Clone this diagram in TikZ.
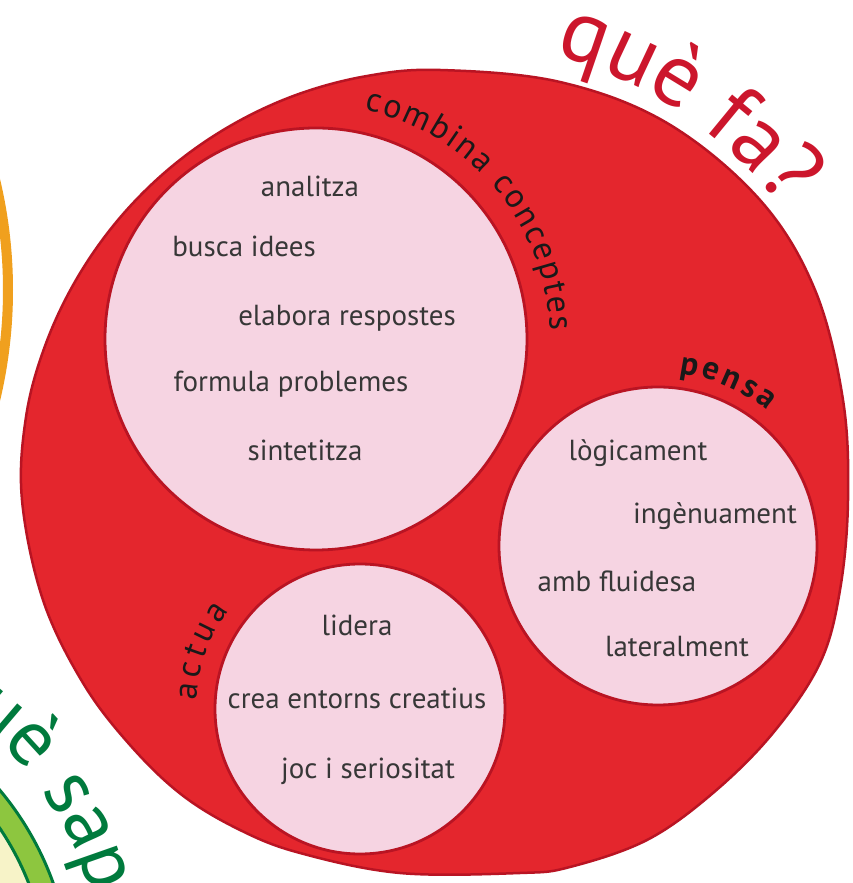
\documentclass[tikz,border=0pt]{standalone}
\usepackage{fontspec}
\setmainfont{PT Sans}
\usetikzlibrary{decorations.text}
\definecolor{redfill}{RGB}{228,38,45}
\definecolor{redline}{RGB}{185,20,35}
\definecolor{pinkfill}{RGB}{246,212,226}
\definecolor{quered}{RGB}{204,22,44}
\definecolor{orangec}{RGB}{240,160,30}
\definecolor{greendark}{RGB}{0,122,61}
\definecolor{greenlight}{RGB}{141,198,63}
\definecolor{creamc}{RGB}{247,243,200}
\definecolor{txtgray}{RGB}{55,55,55}
\definecolor{labelc}{RGB}{25,25,25}
\begin{document}
\begin{tikzpicture}[x=1pt,y=1pt,
  redshape/.style={fill=redfill, draw=redline, line width=2.5pt},
  pinkdisc/.style={circle, fill=pinkfill, draw=redline, line width=2.8pt, inner sep=0pt},
  inner/.style={text=txtgray, font=\fontsize{29}{34}\selectfont, anchor=base, inner sep=0pt}]
\useasboundingbox (0,0) rectangle (852,883);
\clip (0,0) rectangle (852,883);
\fill[white] (0,0) rectangle (852,883);
% orange arc at left edge
\draw[orangec, line width=10pt] (-464,593) circle[radius=472pt];
% green ring, bottom left
\draw[greendark, line width=3pt, fill=greenlight] (-234,-103) circle[radius=305pt];
\draw[greendark, line width=3pt, fill=creamc] (-234,-103) circle[radius=282pt];
\path[decorate, decoration={text along path,
   text={|\fontsize{80}{90}\selectfont\color{greendark}|què sap?}, text align=left}]
   (-234,-103) ++(60.5:338pt) arc[start angle=60.5, end angle=-10, radius=338pt];
% big red shape
\draw[redshape] plot[smooth cycle, tension=0.6] coordinates {
 (440,813) (367,807) (296,788) (230,757) (170,715) (118,663) (76,603)
 (45,537) (26,466) (22,383) (43,283) (83,200) (130,138) (182,88)
 (240,53) (300,30) (400,10) (520,10) (570,16) (647,43) (713,90)
 (773,150) (820,220) (840,293) (848,383) (843,483) (815,593)
 (760,683) (667,760) (560,801)};
% pink discs
\node[pinkdisc, minimum size=422pt] (conc) at (316,544) {};
\node[pinkdisc, minimum size=318pt] (pens) at (658,337) {};
\node[pinkdisc, minimum size=290pt] (actu) at (360,174) {};
% curved labels
\path[decorate, decoration={text along path,
   text={|\fontsize{34}{38}\selectfont\color{labelc}|combina conceptes}, text align=fit to path}]
   (conc.center) ++(78:234pt) arc[start angle=78, end angle=2, radius=234pt];
\path[decorate, decoration={text along path,
   text={|\fontsize{33}{36}\selectfont\bfseries\color{labelc}|pensa}, text align=fit to path}]
   (pens.center) ++(83:174pt) arc[start angle=83, end angle=51, radius=174pt];
\path[decorate, decoration={text along path,
   text={|\fontsize{34}{38}\selectfont\color{labelc}|actua}, text align=fit to path}]
   (actu.center) ++(177:164pt) arc[start angle=177, end angle=143, radius=164pt];
% title
\path[decorate, decoration={text along path,
   text={|\fontsize{90}{96}\selectfont\color{quered}|què fa?}, text align=center}]
   (437,409) ++(86:436pt) arc[start angle=86, end angle=26, radius=436pt];
% inner texts
\node[inner] (t1) at (310,686) {analitza};
\node[inner] (t2) at (244,626) {busca idees};
\node[inner] (t3) at (347,557) {elabora respostes};
\node[inner] (t4) at (291,491) {formula problemes};
\node[inner] (t5) at (305,422) {sintetitza};
\node[inner] (p1) at (638,422) {lògicament};
\node[inner] (p2) at (715,359) {ingènuament};
\node[inner] (p3) at (617,291) {amb fluidesa};
\node[inner] (p4) at (677,226) {lateralment};
\node[inner] (a1) at (357,247) {lidera};
\node[inner] (a2) at (357,174) {crea entorns creatius};
\node[inner] (a3) at (368,104) {joc i seriositat};
\end{tikzpicture}
\end{document}
